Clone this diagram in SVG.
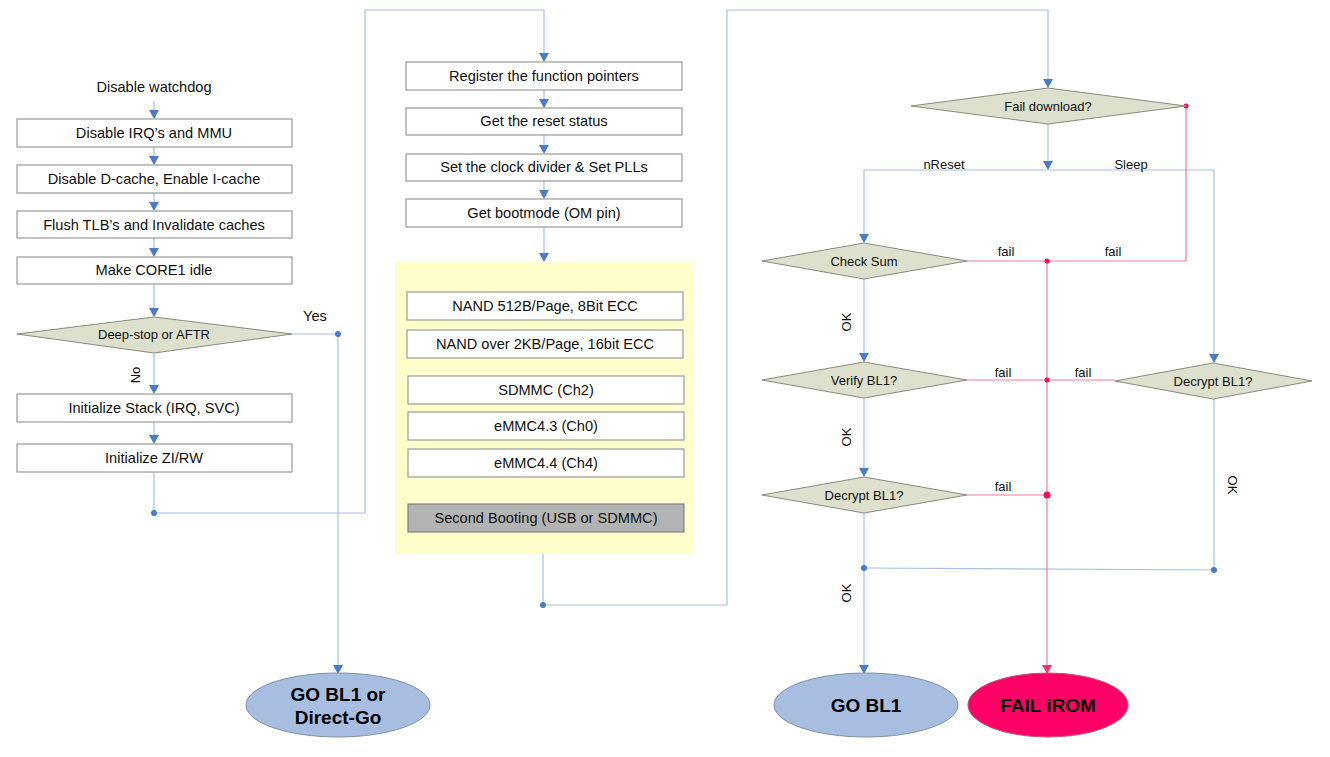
<svg xmlns="http://www.w3.org/2000/svg" width="1330" height="757" viewBox="0 0 1330 757">
<style>
.box{fill:#ffffff;stroke:#999999;stroke-width:1.2}
.dia{fill:#dde0cc;stroke:#8a8a80;stroke-width:1}
.t{font-family:"Liberation Sans",Arial,sans-serif;font-size:14.6px;fill:#111;text-anchor:middle;dominant-baseline:central}
.ts{font-family:"Liberation Sans",Arial,sans-serif;font-size:13px;fill:#111;text-anchor:middle;dominant-baseline:central}
.tb{font-family:"Liberation Sans",Arial,sans-serif;font-size:19px;font-weight:bold;fill:#000;text-anchor:middle;dominant-baseline:central}
.c{fill:none;stroke:#a8c0e2;stroke-width:1.2}
.r{fill:none;stroke:#f27a9e;stroke-width:1.2}
.dot{fill:#4a7bc8}
.rdot{fill:#ff0a5a}
.ah{fill:#4a7bc8}
</style>
<rect width="1330" height="757" fill="#ffffff"/>

<g id="connectors">
<path class="c" d="M154,101 V110"/><path class="ah" d="M149,110 h10 l-5,9 z"/>
<path class="c" d="M154,147 V156"/><path class="ah" d="M149,156 h10 l-5,9 z"/>
<path class="c" d="M154,193 V202"/><path class="ah" d="M149,202 h10 l-5,9 z"/>
<path class="c" d="M154,238 V248"/><path class="ah" d="M149,248 h10 l-5,9 z"/>
<path class="c" d="M154,284 V308"/><path class="ah" d="M149,308 h10 l-5,9 z"/>
<path class="c" d="M292,334 H338 V665"/><path class="ah" d="M333,665 h10 l-5,9 z"/>
<circle class="dot" cx="338" cy="334" r="3"/>
<path class="c" d="M154,353 V385"/><path class="ah" d="M149,385 h10 l-5,9 z"/>
<path class="c" d="M154,422 V435"/><path class="ah" d="M149,435 h10 l-5,9 z"/>
<path class="c" d="M154,472 V513 H365 V10 H544 V53"/><path class="ah" d="M539,53 h10 l-5,9 z"/>
<circle class="dot" cx="154" cy="513" r="3"/>
<path class="c" d="M544,90 V99"/><path class="ah" d="M539,99 h10 l-5,9 z"/>
<path class="c" d="M544,135 V145"/><path class="ah" d="M539,145 h10 l-5,9 z"/>
<path class="c" d="M544,181 V190"/><path class="ah" d="M539,190 h10 l-5,9 z"/>
<path class="c" d="M544,227 V253"/><path class="ah" d="M539,253 h10 l-5,9 z"/>
<path class="c" d="M543,554 V605 H727 V10 H1048 V79"/><path class="ah" d="M1043,79 h10 l-5,9 z"/>
<circle class="dot" cx="543" cy="605" r="3"/>
<path class="c" d="M1048,124 V161"/><path class="ah" d="M1043,161 h10 l-5,9 z"/>
<path class="c" d="M864,234 V170 H1214 V354"/>
<path class="ah" d="M859,234 h10 l-5,9 z"/>
<path class="ah" d="M1209,354 h10 l-5,9 z"/>
<path class="c" d="M864,279 V353"/><path class="ah" d="M859,353 h10 l-5,9 z"/>
<path class="c" d="M864,398 V468"/><path class="ah" d="M859,468 h10 l-5,9 z"/>
<path class="c" d="M864,513 V665"/><path class="ah" d="M859,665 h10 l-5,9 z"/>
<path class="c" d="M1214,399 V570 L864,568"/>
<circle class="dot" cx="864" cy="568" r="3"/>
<circle class="dot" cx="1214" cy="570" r="3"/>
<path class="r" d="M1186,106 V261 H967"/>
<path class="r" d="M1047,261 V665"/><path d="M1042,665 h10 l-5,9 z" fill="#ff2a72"/>
<path class="r" d="M967,380 H1115"/>
<path class="r" d="M967,495 H1047"/>
<circle class="rdot" cx="1186" cy="106" r="2.5"/>
<circle class="rdot" cx="1047" cy="261" r="2.5"/>
<circle class="rdot" cx="1047" cy="380" r="2.5"/>
<circle class="rdot" cx="1047" cy="495" r="3.5"/>
<text class="t" x="315" y="316">Yes</text>
<text class="ts" transform="translate(135,375) rotate(-90)">No</text>
<text class="ts" x="944" y="164">nReset</text>
<text class="ts" x="1131" y="164">Sleep</text>
<text class="ts" x="1006" y="251">fail</text>
<text class="ts" x="1113" y="251">fail</text>
<text class="ts" x="1003" y="372">fail</text>
<text class="ts" x="1083" y="372">fail</text>
<text class="ts" x="1003" y="486">fail</text>
<text class="ts" transform="translate(846,322) rotate(-90)">OK</text>
<text class="ts" transform="translate(846,437) rotate(-90)">OK</text>
<text class="ts" transform="translate(846,593) rotate(-90)">OK</text>
<text class="ts" transform="translate(1232,485) rotate(90)">OK</text>
</g>

<g id="n-watchdog"><text class="t" x="154" y="87">Disable watchdog</text></g>
<g id="n-irq"><rect class="box" x="17" y="119" width="275" height="28"/><text class="t" x="154" y="133">Disable IRQ’s and MMU</text></g>
<g id="n-dcache"><rect class="box" x="17" y="165" width="275" height="28"/><text class="t" x="154" y="179">Disable D-cache, Enable I-cache</text></g>
<g id="n-tlb"><rect class="box" x="17" y="211" width="275" height="27"/><text class="t" x="154" y="225">Flush TLB’s and Invalidate caches</text></g>
<g id="n-core1"><rect class="box" x="17" y="257" width="275" height="27"/><text class="t" x="154" y="270">Make CORE1 idle</text></g>
<g id="n-deepstop"><polygon class="dia" points="17,334 154,317 292,334 154,353"/><text class="ts" x="154" y="334">Deep-stop or AFTR</text></g>
<g id="n-stack"><rect class="box" x="17" y="394" width="275" height="28"/><text class="t" x="154" y="408">Initialize Stack (IRQ, SVC)</text></g>
<g id="n-zirw"><rect class="box" x="17" y="444" width="275" height="28"/><text class="t" x="154" y="458">Initialize ZI/RW</text></g>

<g id="n-register"><rect class="box" x="406" y="62" width="276" height="28"/><text class="t" x="544" y="76">Register the function pointers</text></g>
<g id="n-reset"><rect class="box" x="406" y="108" width="276" height="27"/><text class="t" x="544" y="121">Get the reset status</text></g>
<g id="n-clock"><rect class="box" x="406" y="154" width="276" height="27"/><text class="t" x="544" y="167">Set the clock divider &amp; Set PLLs</text></g>
<g id="n-bootmode"><rect class="box" x="406" y="199" width="276" height="28"/><text class="t" x="544" y="213">Get bootmode (OM pin)</text></g>

<g id="n-bootdevices">
<rect x="395" y="262" width="298" height="292" fill="#ffffcc"/>
<rect class="box" x="407" y="292" width="276" height="28"/><text class="t" x="545" y="306">NAND 512B/Page, 8Bit ECC</text>
<rect class="box" x="407" y="330" width="276" height="28"/><text class="t" x="545" y="344">NAND over 2KB/Page, 16bit ECC</text>
<rect class="box" x="408" y="376" width="276" height="28"/><text class="t" x="546" y="390">SDMMC (Ch2)</text>
<rect class="box" x="408" y="412" width="276" height="28"/><text class="t" x="546" y="426">eMMC4.3 (Ch0)</text>
<rect class="box" x="408" y="449" width="276" height="28"/><text class="t" x="546" y="463">eMMC4.4 (Ch4)</text>
<rect x="408" y="504" width="276" height="28" fill="#b3b3b3" stroke="#7f7f7f" stroke-width="1.2"/><text class="t" x="546" y="518">Second Booting (USB or SDMMC)</text>
</g>

<g id="n-faildl"><polygon class="dia" points="911,106 1048,88 1186,106 1048,124"/><text class="ts" x="1048" y="106">Fail download?</text></g>
<g id="n-checksum"><polygon class="dia" points="762,261 864,243 967,261 864,279"/><text class="ts" x="864" y="261">Check Sum</text></g>
<g id="n-verify"><polygon class="dia" points="762,380 864,362 967,380 864,398"/><text class="ts" x="864" y="380">Verify BL1?</text></g>
<g id="n-decrypt1"><polygon class="dia" points="762,495 864,477 967,495 864,513"/><text class="ts" x="864" y="495">Decrypt BL1?</text></g>
<g id="n-decrypt2"><polygon class="dia" points="1115,381 1213,363 1312,381 1213,399"/><text class="ts" x="1213" y="381">Decrypt BL1?</text></g>

<g id="n-gobl1direct"><ellipse cx="338" cy="705" rx="92" ry="32" fill="#a8bee0" stroke="#8090a8" stroke-width="1"/><text class="tb" x="338" y="694">GO BL1 or</text><text class="tb" x="338" y="717">Direct-Go</text></g>
<g id="n-gobl1"><ellipse cx="866" cy="705" rx="92" ry="32" fill="#a8bee0" stroke="#8090a8" stroke-width="1"/><text class="tb" x="866" y="705">GO BL1</text></g>
<g id="n-failirom"><ellipse cx="1048" cy="705" rx="80" ry="32" fill="#ff0066" stroke="#c05070" stroke-width="1"/><text class="tb" x="1048" y="705">FAIL iROM</text></g>
</svg>
